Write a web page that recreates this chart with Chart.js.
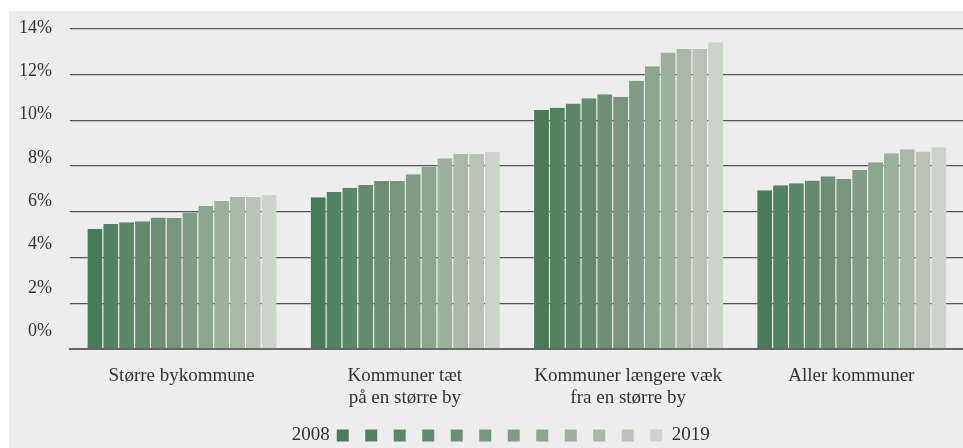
<!DOCTYPE html>
<html>
<head>
<meta charset="utf-8">
<script src="https://cdn.jsdelivr.net/npm/chart.js@4"></script>
<style>
  html, body { margin: 0; padding: 0; background: #ffffff; overflow: hidden; }
  #panel { position: absolute; left: 9px; top: 11px; width: 954px; height: 437px; background: #ededed; }
</style>
</head>
<body>
<div id="panel"><canvas id="chart"></canvas></div>
<script>
// categories (x-axis), one multi-line label per group
const categories = [
    ['Større bykommune'],
    ['Kommuner tæt', 'på en større by'],
    ['Kommuner længere væk', 'fra en større by'],
    ['Aller kommuner'],
];

const years = ['2008', '2009', '2010', '2011', '2012', '2013', '2014', '2015', '2016', '2017', '2018', '2019'];

// share per year, one value per category (in %)
const v2008 = [5.25, 6.64, 10.46, 6.94];
const v2009 = [5.47, 6.87, 10.56, 7.16];
const v2010 = [5.54, 7.05, 10.74, 7.25];
const v2011 = [5.59, 7.18, 10.97, 7.37];
const v2012 = [5.75, 7.35, 11.15, 7.56];
const v2013 = [5.74, 7.35, 11.04, 7.44];
const v2014 = [5.97, 7.64, 11.74, 7.83];
const v2015 = [6.26, 7.98, 12.37, 8.17];
const v2016 = [6.48, 8.34, 12.97, 8.56];
const v2017 = [6.65, 8.53, 13.13, 8.74];
const v2018 = [6.65, 8.53, 13.13, 8.64];
const v2019 = [6.75, 8.62, 13.42, 8.83];

const yTicks = [0, 2, 4, 6, 8, 10, 12, 14];

const values = [v2008, v2009, v2010, v2011, v2012, v2013, v2014, v2015, v2016, v2017, v2018, v2019];

const colors = [
    '#4b7a5b', '#528262', '#5b8667', '#648a6e', '#6d9075', '#76957c',
    '#819c86', '#8ca58f', '#9db09c', '#a9b8a7', '#b9c4b7', '#cbd4c9',
];

const serif = 'Liberation Serif';
const textColor = '#333333';

const datasets = years.map((year, i) => ({
    label: year,
    data: values[i],
    backgroundColor: colors[i],
    borderColor: 'rgba(255,255,255,0.22)',
    borderWidth: { left: 1, top: 0, right: 0, bottom: 0 },
    borderSkipped: false,
    categoryPercentage: 0.851,
    barPercentage: 1.0,
}));

// y labels sit a little above their grid lines, more so near the bottom
const yLabelLift = v => 1 + (14 - v) * 1.2;

new Chart(document.getElementById('chart').getContext('2d'), {
    type: 'bar',
    data: { labels: categories, datasets },
    options: {
        responsive: true,
        maintainAspectRatio: false,
        animation: false,
        layout: { padding: { left: 8, right: 0, top: 18, bottom: -7 } },
        plugins: {
            tooltip: { enabled: false },
            legend: {
                position: 'bottom',
                labels: {
                    font: { family: serif, size: 19 },
                    color: textColor,
                    boxWidth: 12,
                    boxHeight: 12,
                    padding: 7,
                    // "2008 ■ ■ ... ■ 2019": a blank leading item carries the first year text
                    generateLabels(chart) {
                        const items = [{
                            text: years[0],
                            fillStyle: 'rgba(0,0,0,0)',
                            strokeStyle: 'rgba(0,0,0,0)',
                            lineWidth: 0,
                            hidden: false,
                            datasetIndex: 0,
                            fontColor: textColor,
                        }];
                        chart.data.datasets.forEach((ds, i) => {
                            items.push({
                                text: i === years.length - 1 ? years[i] : '',
                                fillStyle: ds.backgroundColor,
                                strokeStyle: ds.backgroundColor,
                                lineWidth: 0,
                                hidden: false,
                                datasetIndex: i,
                                fontColor: textColor,
                            });
                        });
                        return items;
                    },
                },
            },
        },
        scales: {
            x: {
                grid: { display: false, drawTicks: false },
                border: { display: true, color: '#666666', width: 2 },
                ticks: {
                    font: { family: serif, size: 19, lineHeight: 1.16 },
                    color: textColor,
                    padding: 16,
                    maxRotation: 0,
                    autoSkip: false,
                },
                afterFit(scale) {
                    scale.height = 70;
                },
            },
            y: {
                min: 0,
                max: 14,
                afterBuildTicks(scale) {
                    scale.ticks = yTicks.map(v => ({ value: v }));
                },
                afterFit(scale) {
                    scale.width = 53;
                    scale.paddingTop = 0;
                    scale.paddingBottom = 0;
                },
                grid: { color: '#555555', lineWidth: 1.3, drawTicks: false },
                border: { display: false },
                ticks: {
                    color: textColor,
                    padding: 18,
                    autoSkip: false,
                    font: ctx => ({
                        family: serif,
                        size: 18,
                        lineHeight: (2 * yLabelLift(ctx.tick ? ctx.tick.value : 14)).toFixed(1) + 'px',
                    }),
                    // empty second line lets the line height lift the label
                    callback: v => [v + '%', ''],
                },
            },
        },
    },
});
</script>
</body>
</html>
